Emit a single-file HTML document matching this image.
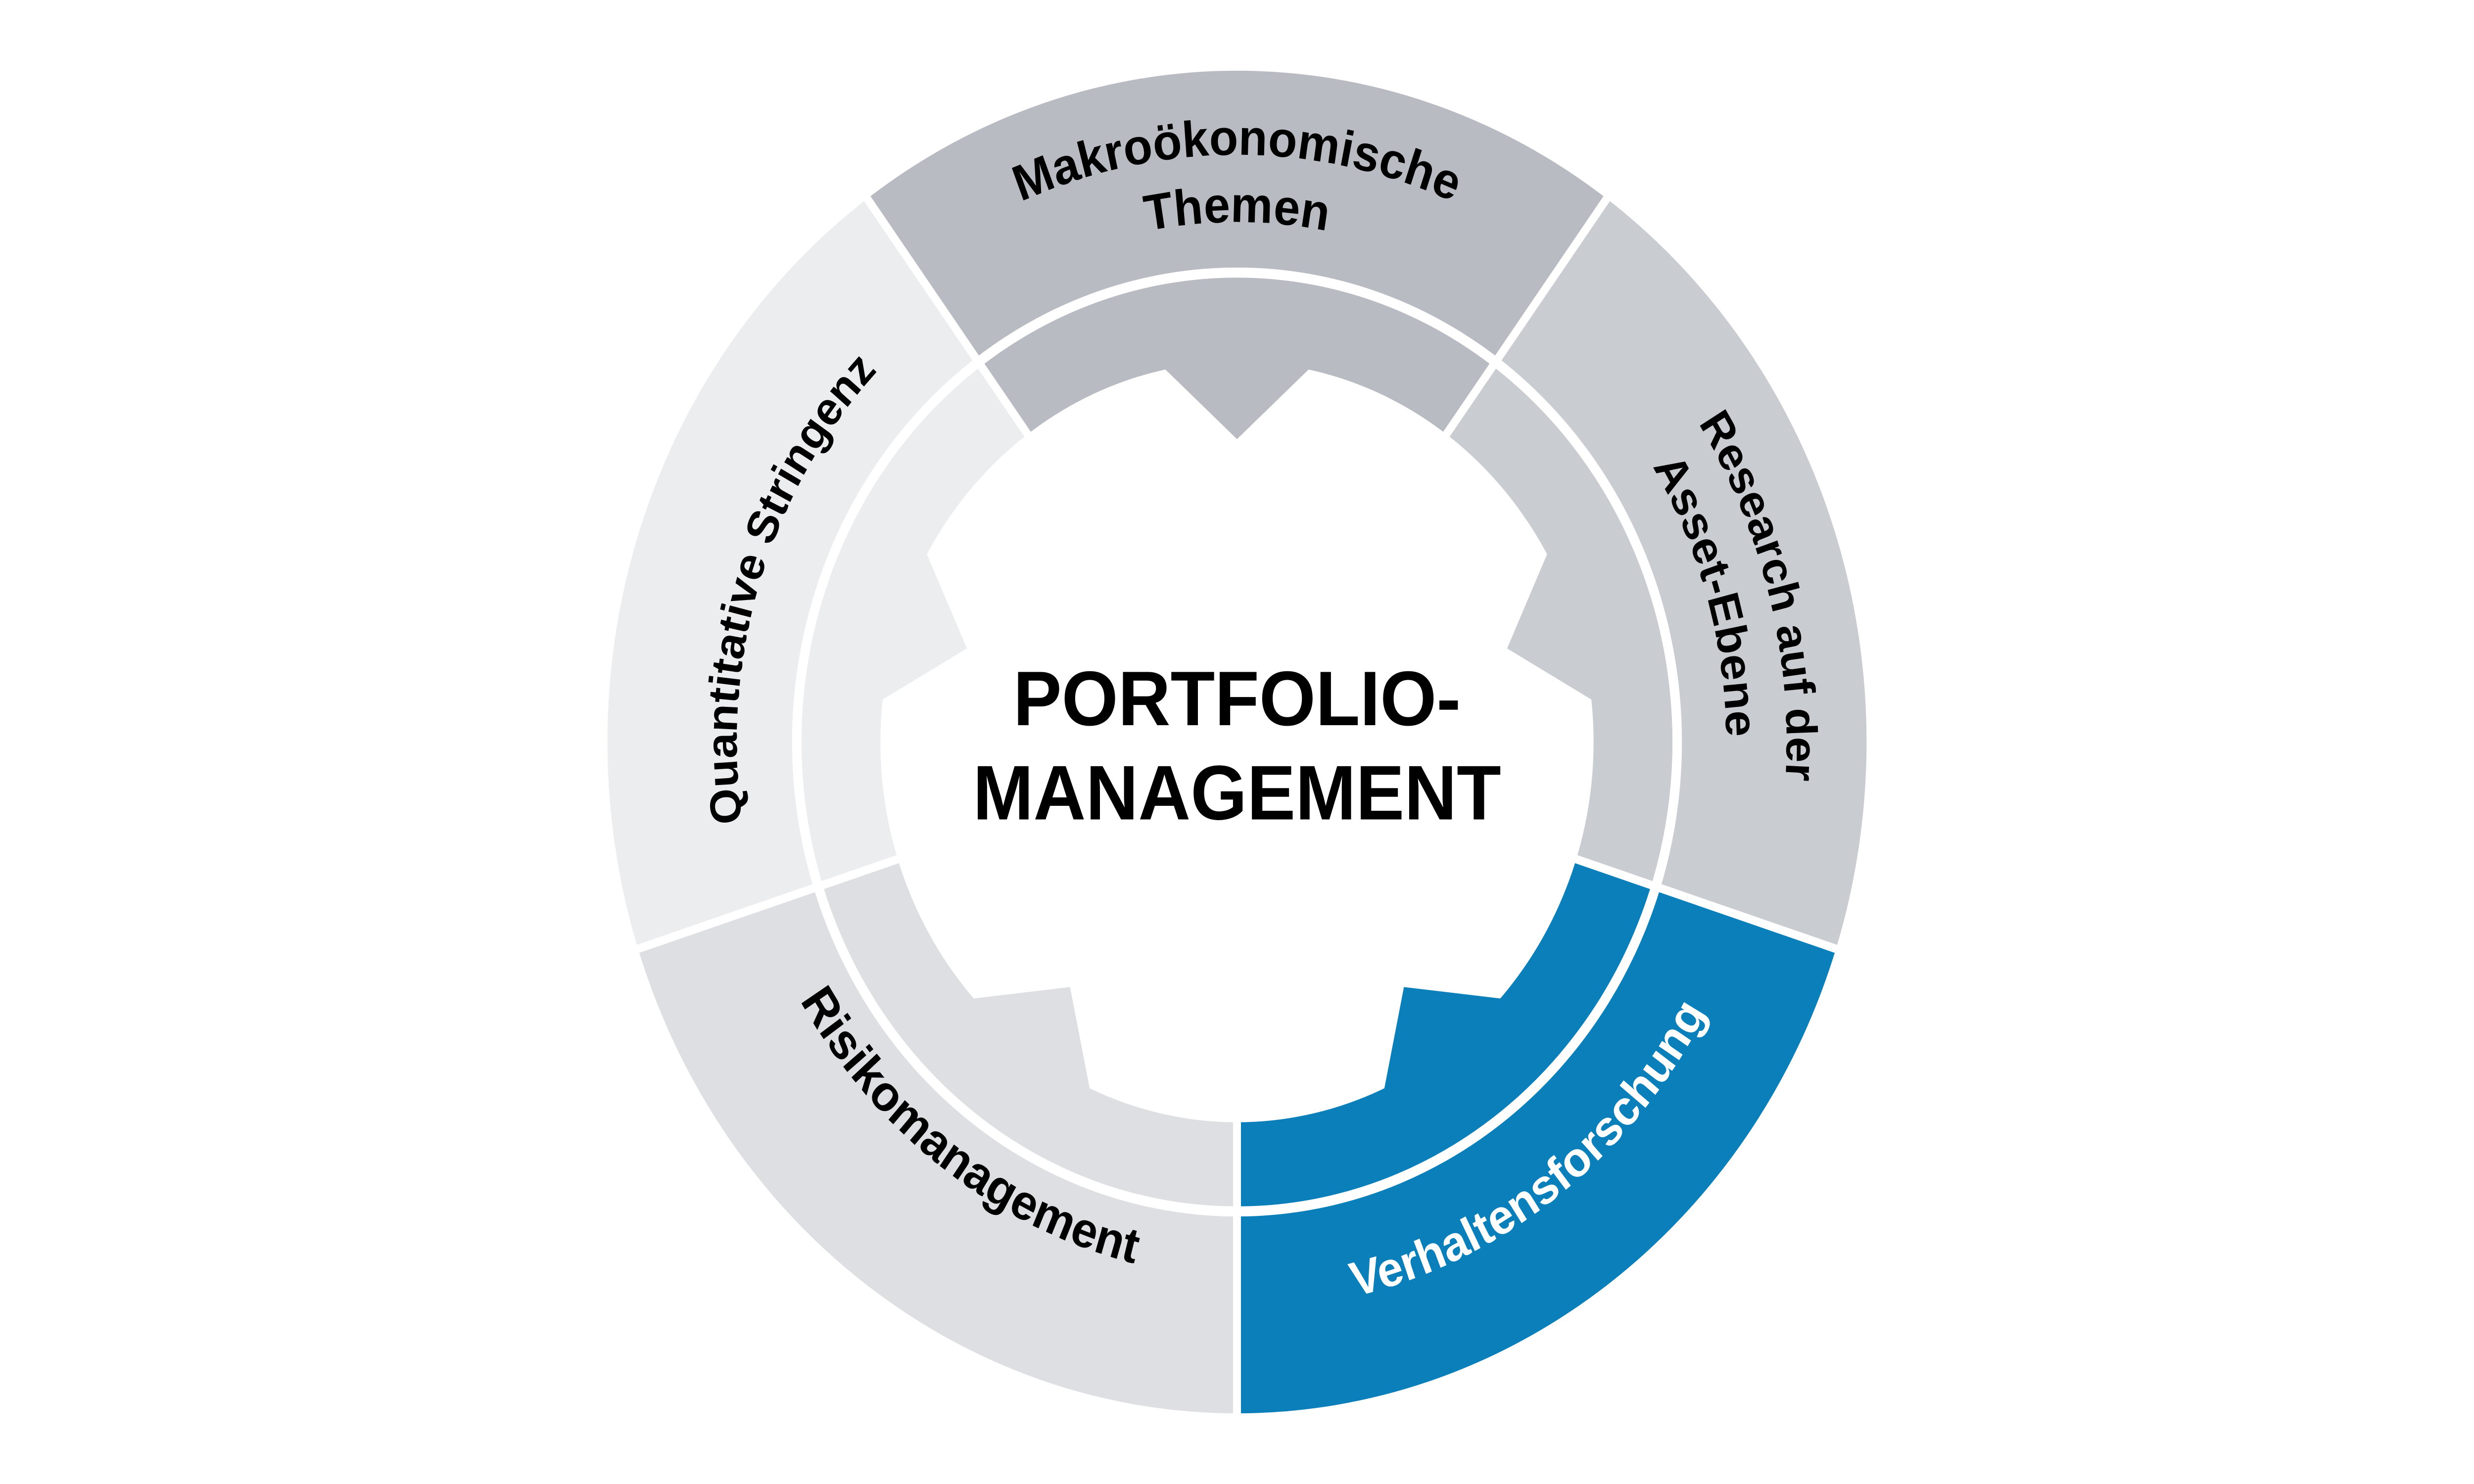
<!DOCTYPE html>
<html>
<head>
<meta charset="utf-8">
<style>
html,body{margin:0;padding:0;background:#fff;width:100%;height:100%;overflow:hidden;}
svg{display:block;position:fixed;left:0;top:0;width:100%;height:100%;}
text{font-family:"Liberation Sans",Arial,sans-serif;font-weight:bold;}
</style>
</head>
<body>
<svg viewBox="0 0 1568 882" preserveAspectRatio="none" xmlns="http://www.w3.org/2000/svg">
<defs>
<path id="pMakro" d="M435,441 A349,349 0 0 1 1133,441"/>
<path id="pThemen" d="M475,441 A309,309 0 0 1 1093,441"/>
<path id="pRes1" d="M695.8,102.3 A350,350 0 0 1 872.2,779.7"/>
<path id="pRes2" d="M697.5,143.3 A310,310 0 0 1 870.5,738.7"/>
<path id="pQuant" d="M687.6,743 A317,317 0 0 1 880.4,139"/>
<path id="pRisk" d="M510.4,239.2 A341,341 0 0 0 1057.6,642.8"/>
<path id="pVerh" d="M514.8,645.4 A338,338 0 0 0 1053.2,236.6"/>
</defs>
<rect width="1568" height="882" fill="#fff"/>
<path d="M784,441 L549.5,118.2 A399,399 0 0 1 1018.5,118.2 Z" fill="#b8bcc2"/>
<path d="M784,441 L1018.5,118.2 A399,399 0 0 1 1163.5,564.3 Z" fill="#c9ccd0"/>
<path d="M784,441 L1163.5,564.3 A399,399 0 0 1 784,840 Z" fill="#0b7fba"/>
<path d="M784,441 L784,840 A399,399 0 0 1 404.5,564.3 Z" fill="#dedfe2"/>
<path d="M784,441 L404.5,564.3 A399,399 0 0 1 549.5,118.2 Z" fill="#ecedef"/>
<g stroke="#fff" stroke-width="5">
<line x1="784" y1="441" x2="546" y2="113"/>
<line x1="784" y1="441" x2="1022" y2="113"/>
<line x1="784" y1="441" x2="1170" y2="566"/>
<line x1="784" y1="441" x2="784" y2="846"/>
<line x1="784" y1="441" x2="398" y2="566"/>
</g>
<circle cx="784" cy="441" r="279" fill="none" stroke="#fff" stroke-width="6"/>
<circle cx="784" cy="441" r="226" fill="#fff"/>
<g transform="translate(784 441)">
<polygon transform="rotate(270)" points="221.4,45.4 180,0 221.4,-45.4 236,0" fill="#b8bcc2"/>
<polygon transform="rotate(342)" points="221.4,45.4 180,0 221.4,-45.4 236,0" fill="#c9ccd0"/>
<polygon transform="rotate(54)" points="221.4,45.4 180,0 221.4,-45.4 236,0" fill="#0b7fba"/>
<polygon transform="rotate(126)" points="221.4,45.4 180,0 221.4,-45.4 236,0" fill="#dedfe2"/>
<polygon transform="rotate(198)" points="221.4,45.4 180,0 221.4,-45.4 236,0" fill="#ecedef"/>
</g>
<text x="784" y="431" text-anchor="middle" font-size="46" fill="#000">PORTFOLIO-</text>
<text x="784" y="487" text-anchor="middle" font-size="46" fill="#000">MANAGEMENT</text>
<text font-size="30" fill="#000"><textPath href="#pMakro" startOffset="50%" text-anchor="middle">Makroökonomische</textPath></text>
<text font-size="30" fill="#000"><textPath href="#pThemen" startOffset="50%" text-anchor="middle">Themen</textPath></text>
<text font-size="27.5" fill="#000"><textPath href="#pRes1" startOffset="50%" text-anchor="middle">Research auf der</textPath></text>
<text font-size="28" fill="#000"><textPath href="#pRes2" startOffset="50%" text-anchor="middle">Asset-Ebene</textPath></text>
<text font-size="27.5" fill="#000"><textPath href="#pQuant" startOffset="50%" text-anchor="middle">Quantitative Stringenz</textPath></text>
<text font-size="29.5" fill="#000"><textPath href="#pRisk" startOffset="50%" text-anchor="middle">Risikomanagement</textPath></text>
<text font-size="29" fill="#fff"><textPath href="#pVerh" startOffset="50%" text-anchor="middle">Verhaltensforschung</textPath></text>
</svg>
</body>
</html>
